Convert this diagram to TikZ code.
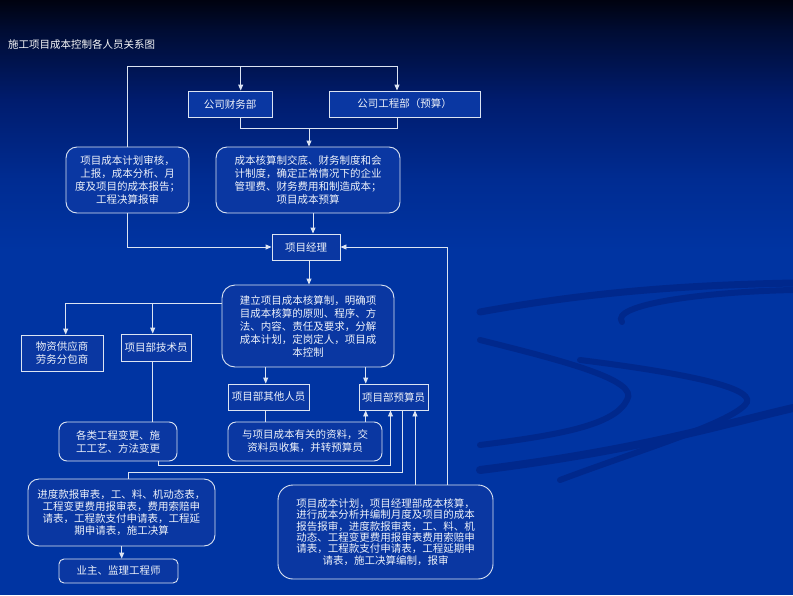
\documentclass[tikz,border=0pt]{standalone}
\usepackage{fontspec}
\setmainfont{Noto Sans CJK SC}
\usetikzlibrary{arrows.meta}
\definecolor{bgA}{HTML}{00020F}
\definecolor{bgB}{HTML}{000C33}
\definecolor{bgC}{HTML}{001C6E}
\definecolor{bgD}{HTML}{002C92}
\definecolor{bgE}{HTML}{0034A2}
\definecolor{boxfill}{HTML}{0A37A2}
\definecolor{linec}{HTML}{DCE4F2}
\definecolor{txt}{HTML}{EEF2FA}
\definecolor{swoosh}{HTML}{00288C}
\tikzset{
  bx/.style={draw=linec, line width=0.9pt, fill=boxfill, text=txt, inner sep=0pt,
    font=\fontsize{10.5}{13}\selectfont, align=center},
  rbx/.style={bx, rounded corners=#1},
  rbx/.default=11pt,
  ln/.style={draw=linec, line width=0.9pt},
  arr/.style={ln, -{Triangle[width=5pt,length=6pt]}},
  swo/.style={draw=swoosh, line cap=round},
}
\begin{document}
\begin{tikzpicture}[x=1pt,y=-1pt]
% background
\useasboundingbox (0,0) rectangle (793,595);
\shade[top color=bgA, bottom color=bgB] (0,-0.5) rectangle (793,30.5);
\shade[top color=bgB, bottom color=bgC] (0,30) rectangle (793,100.5);
\shade[top color=bgC, bottom color=bgD] (0,100) rectangle (793,180.5);
\shade[top color=bgD, bottom color=bgE] (0,180) rectangle (793,250.5);
\fill[bgE] (0,250) rectangle (793,595);
% faint background swooshes
\draw[swo, line width=7pt] (480,312) .. controls (600,290) and (700,285) .. (793,283);
\draw[swo, line width=6pt] (793,290) .. controls (700,292) and (610,305) .. (622,322);
\draw[swo, line width=6pt] (480,340) .. controls (560,360) and (640,380) .. (627,400) .. controls (615,425) and (560,435) .. (480,445);
\draw[swo, line width=6pt] (580,360) .. controls (700,375) and (760,390) .. (745,405) .. controls (725,425) and (640,450) .. (560,480);
\draw[swo, line width=8pt] (480,470) .. controls (640,450) and (720,425) .. (793,408);
% title
\node[text=txt!85!black!15!white, font=\fontsize{10.5}{13}\selectfont, anchor=west, inner sep=0pt] (title) at (8,45) {施工项目成本控制各人员关系图};
% nodes
\node[bx, minimum width=84pt, minimum height=26pt] (fin) at (230,104) {公司财务部};
\node[bx, minimum width=151pt, minimum height=26pt] (eng) at (404.5,104) {公司工程部（预算）};
\node[rbx, minimum width=123pt, minimum height=66pt] (lrep) at (127.5,180)
  {项目成本计划审核，\\上报，成本分析、月\\度及项目的成本报告；\\工程决算报审};
\node[rbx, minimum width=184pt, minimum height=66pt] (mrep) at (308,180)
  {成本核算制交底、财务制度和会\\计制度，确定正常情况下的企业\\管理费、财务费用和制造成本；\\项目成本预算};
\node[bx, minimum width=68pt, minimum height=26pt] (pm) at (306,247) {项目经理};
\node[rbx=13pt, minimum width=172pt, minimum height=82pt] (est) at (308,326)
  {建立项目成本核算制，明确项\\目成本核算的原则、程序、方\\法、内容、责任及要求，分解\\成本计划，定岗定人，项目成\\本控制};
\node[bx, minimum width=82pt, minimum height=36pt] (sup) at (62,353) {物资供应商\\劳务分包商};
\node[bx, minimum width=70pt, minimum height=27pt] (tech) at (156,347.5) {项目部技术员};
\node[rbx=8pt, minimum width=118pt, minimum height=39pt] (chg) at (118,441.5) {各类工程变更、施\\工工艺、方法变更};
\node[bx, minimum width=81pt, minimum height=26pt] (oth) at (268.5,397) {项目部其他人员};
\node[bx, minimum width=69pt, minimum height=26pt] (bud) at (393.5,397) {项目部预算员};
\node[rbx=8pt, minimum width=154pt, minimum height=39pt] (dat) at (305,441.5) {与项目成本有关的资料，交\\资料员收集，并转预算员};
\node[rbx, minimum width=187pt, minimum height=67pt, font=\fontsize{10.5}{12}\selectfont] (prog) at (121.5,512.5)
  {进度款报审表，工、料、机动态表，\\工程变更费用报审表，费用索赔申\\请表，工程款支付申请表，工程延\\期申请表，施工决算};
\node[rbx=5pt, minimum width=119pt, minimum height=24pt] (own) at (118.5,571) {业主、监理工程师};
\node[rbx=15pt, minimum width=215pt, minimum height=94pt, font=\fontsize{10.5}{11.3}\selectfont] (plan) at (385.5,532)
  {项目成本计划，项目经理部成本核算，\\进行成本分析并编制月度及项目的成本\\报告报审，进度款报审表，工、料、机\\动态、工程变更费用报审表费用索赔申\\请表，工程款支付申请表，工程延期申\\请表，施工决算编制，报审};
% connectors
\coordinate (tl) at (127.5,66);
\coordinate (tr) at (397,66);
\draw[ln] (lrep.north) -- (tl) -- (tr);
\draw[arr] (240.7,66) -- (240.7,0 |- fin.north);
\draw[arr] (tr) -- (397,0 |- eng.north);
\coordinate (jl) at (240.7,128.7);
\coordinate (jr) at (397,128.7);
\draw[ln] (240.7,0 |- fin.south) -- (jl) -- (jr) -- (397,0 |- eng.south);
\draw[arr] (309,128.7) -- (309,0 |- mrep.north);
\draw[arr] (313,0 |- mrep.south) -- (313,0 |- pm.north);
\draw[arr] (lrep.south) |- (pm.west);
\draw[arr] (plan.north -| 447,0) |- (pm.east);
\draw[arr] (309,0 |- pm.south) -- (309,0 |- est.north);
\coordinate (el) at (65.7,303);
\draw[ln] (est.west |- 0,303) -- (el);
\draw[arr] (el) -- (65.7,0 |- sup.north);
\draw[arr] (152.7,303) -- (152.7,0 |- tech.north);
\draw[ln] (152.7,0 |- tech.south) -- (152.7,0 |- chg.north);
\draw[arr] (265.7,0 |- est.south) -- (265.7,0 |- oth.north);
\draw[arr] (365.7,0 |- est.south) -- (365.7,0 |- bud.north);
\draw[ln] (265.7,0 |- oth.south) -- (265.7,0 |- dat.north);
\draw[arr] (365.7,0 |- dat.north) -- (365.7,0 |- bud.south);
\coordinate (c1) at (158,465.5);
\coordinate (c2) at (390.5,465.5);
\draw[arr] (158,0 |- chg.south) -- (c1) -- (c2) -- (390.5,0 |- bud.south);
\coordinate (p1) at (402.5,472.5);
\coordinate (p2) at (128.3,472.5);
\draw[ln] (402.5,0 |- bud.south) -- (p1) -- (p2) -- (128.3,0 |- prog.north);
\draw[arr] (415,0 |- plan.north) -- (415,0 |- bud.south);
\draw[arr] (121.7,0 |- prog.south) -- (121.7,0 |- own.north);
\end{tikzpicture}
\end{document}
